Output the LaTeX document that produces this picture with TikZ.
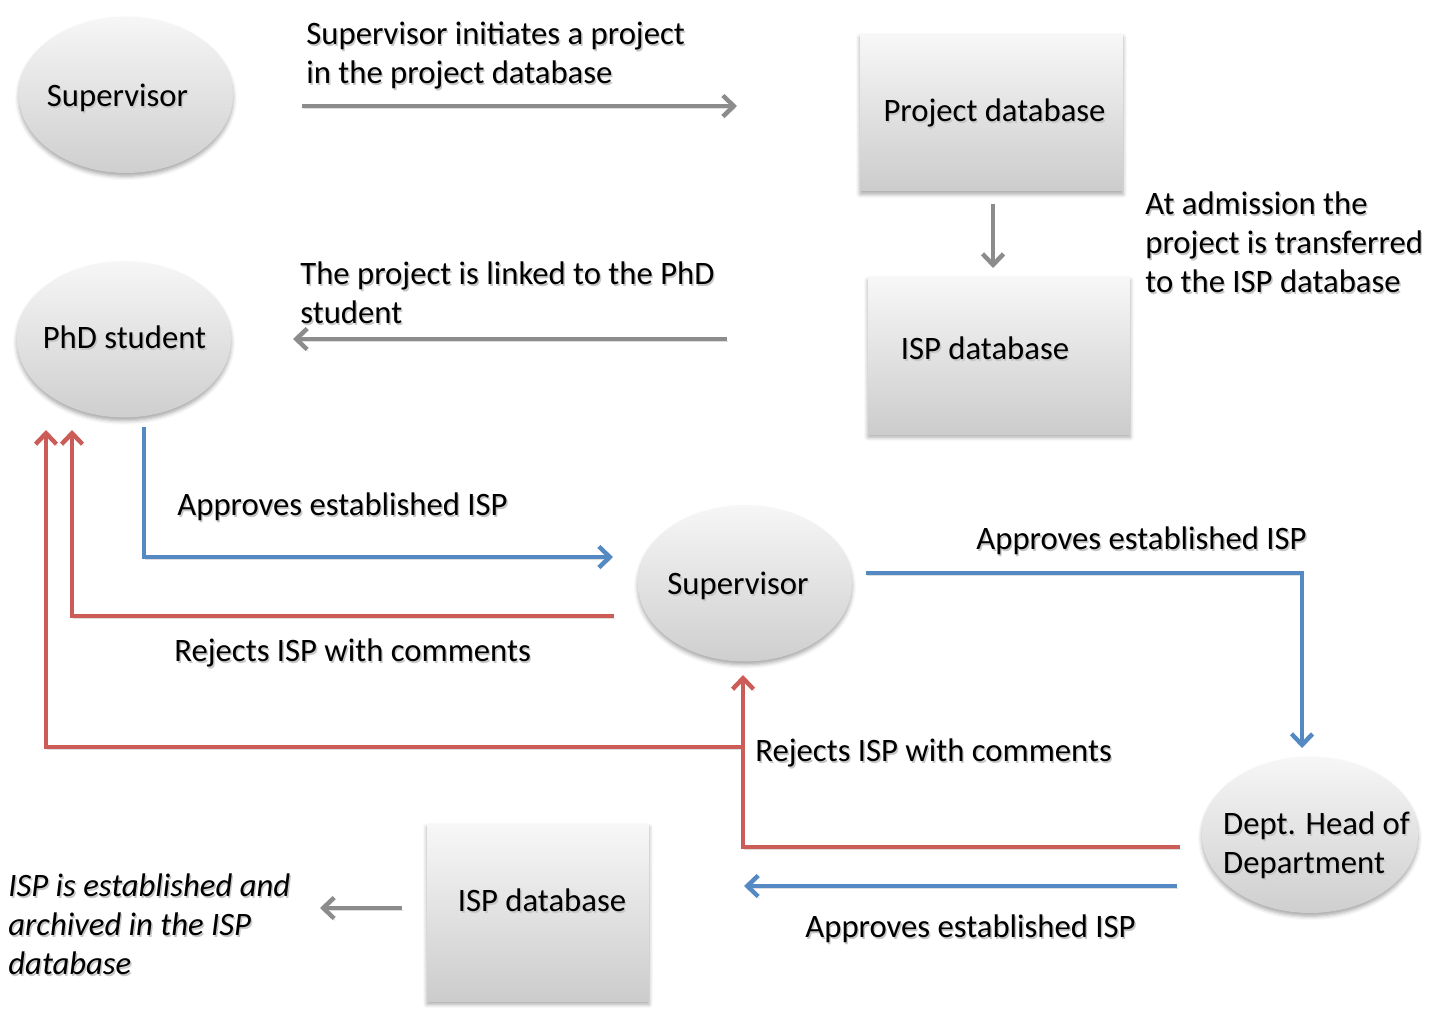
\documentclass[tikz,border=0pt]{standalone}
\usepackage{fontspec}
\setmainfont{Carlito}
\usetikzlibrary{shapes.geometric,arrows.meta,shadows.blur}

\definecolor{flowgray}{RGB}{140,140,140}
\definecolor{flowblue}{RGB}{85,137,196}
\definecolor{flowred}{RGB}{204,92,88}

% text with a soft shadow underneath
\newcommand{\shd}[1]{\leavevmode\rlap{\kern0.7pt\raisebox{-1pt}{\textcolor{black!22}{#1}}}#1}
% label of zero width, moved left by #1/2 and raised by #2
\newcommand{\inlbl}[3]{\makebox[0pt][c]{\raisebox{#2}{#3}\kern#1}}

\begin{document}
\begin{tikzpicture}[x=0.5pt,y=-0.5pt,
  every node/.style={font=\fontsize{16.35}{19.5}\selectfont},
  soft/.style={blur shadow={shadow xshift=0pt,shadow yshift=-1.6pt,
      shadow blur radius=2pt,shadow opacity=35}},
  boxed/.style={soft,inner sep=0pt,text height=11pt,text depth=3pt},
  actor/.style={ellipse,boxed,top color=gray!7,bottom color=gray!38,
      minimum width=107pt,minimum height=78pt},
  store/.style={rectangle,boxed,top color=gray!6,bottom color=gray!40},
  txt/.style={inner sep=0pt,anchor=west,align=left},
  flow/.style={line width=2.2pt,-{Straight Barb[length=5.5pt,width=10.5pt]},
      preaction={draw=black!13,transform canvas={shift={(0.6pt,-1pt)}}}},
  grayflow/.style={flow,draw=flowgray},
  blueflow/.style={flow,draw=flowblue},
  redflow/.style={flow,draw=flowred},
]
\useasboundingbox (0,0) rectangle (1438,1016);

% actors and databases
\node[actor] (sup1) at (126,95) {\inlbl{8.5pt}{-2pt}{\shd{Supervisor}}};
\node[store,minimum width=131.5pt,minimum height=78.5pt] (pdb) at (991.5,112.5)
  {\inlbl{-3pt}{-0.3pt}{\shd{Project database}}};
\node[store,minimum width=131pt,minimum height=78.5pt] (isp1) at (999,355.5)
  {\inlbl{14pt}{2.2pt}{\shd{ISP database}}};
\node[actor] (phd) at (124,339.5) {\inlbl{-0.5pt}{-0.3pt}{\shd{PhD student}}};
\node[actor] (sup2) at (745,583.5) {\inlbl{7pt}{-1.5pt}{\shd{Supervisor}}};
\node[actor,minimum width=108pt] (head) at (1310,835)
  {\inlbl{-6.5pt}{-5.7pt}{\begin{tabular}{@{}l@{}}\shd{Dept. Head of}\\\shd{Department}\end{tabular}}};
\node[store,minimum width=111pt,minimum height=88.5pt] (isp2) at (538,912.5)
  {\inlbl{-4pt}{4.7pt}{\shd{ISP database}}};

% descriptions
\node[txt] (t1) at (306,56) {\shd{Supervisor initiates a project}\\\shd{in the project database}};
\node[txt] (t2) at (1145,243) {\shd{At admission the}\\\shd{project is transferred}\\\shd{to the ISP database}};
\node[txt] (t3) at (300,294) {\shd{The project is linked to the PhD}\\\shd{student}};
\node[txt] (t4) at (177,508) {\shd{Approves established ISP}};
\node[txt] (t5) at (174,654) {\shd{Rejects ISP with comments}};
\node[txt] (t6) at (976,542) {\shd{Approves established ISP}};
\node[txt] (t7) at (755,754) {\shd{Rejects ISP with comments}};
\node[txt] (t8) at (805,930) {\shd{Approves established ISP}};
\node[txt,font=\fontsize{16.35}{19.5}\selectfont\itshape] (t9) at (8,925)
  {\shd{ISP is established and}\\\shd{archived in the ISP}\\\shd{database}};

% connector end points
\coordinate (a1s) at (302,106);  \coordinate (a1e) at (737,106);
\coordinate (a2s) at (993,204);  \coordinate (a2e) at (993,268);
\coordinate (a3s) at (727,339);  \coordinate (a3e) at (293,339);
\coordinate (b1s) at (144,427);  \coordinate (b1e) at (613,557);
\coordinate (r1s) at (614,616);  \coordinate (r1e) at (72,430);
\coordinate (b2s) at (866,573);  \coordinate (b2e) at (1302,748);
\coordinate (r2s) at (1180,847); \coordinate (r2e) at (743,675);
\coordinate (r3s) at (743,747);  \coordinate (r3e) at (46,430);
\coordinate (b3s) at (1177,886); \coordinate (b3e) at (744,886);
\coordinate (a4s) at (402,908);  \coordinate (a4e) at (320,908);

% connectors
\draw[grayflow] (a1s) -- (a1e);
\draw[grayflow] (a2s) -- (a2e);
\draw[grayflow] (a3s) -- (a3e);
\draw[blueflow] (b1s) |- (b1e);
\draw[redflow] (r1s) -| (r1e);
\draw[blueflow] (b2s) -| (b2e);
\draw[redflow] (r3s) -| (r3e);
\draw[redflow] (r2s) -| (r2e);
\draw[blueflow] (b3s) -- (b3e);
\draw[grayflow] (a4s) -- (a4e);
\end{tikzpicture}
\end{document}
